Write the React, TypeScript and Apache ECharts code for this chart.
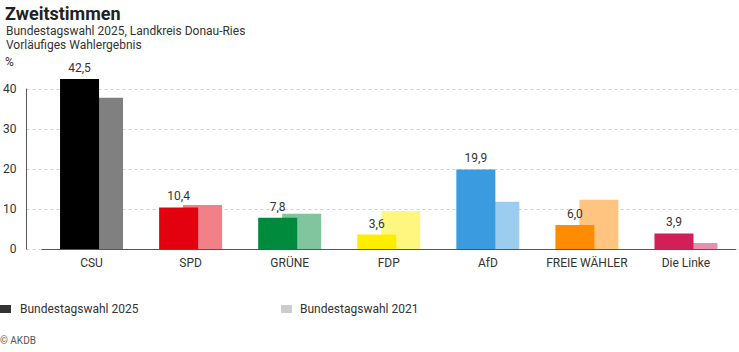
import React, { useEffect, useRef } from "react";
import * as echarts from "echarts";

const categories = ["CSU", "SPD", "GRÜNE", "FDP", "AfD", "FREIE WÄHLER", "Die Linke"];
const values2025 = [42.5, 10.4, 7.8, 3.6, 19.9, 6.0, 3.9];
const values2021 = [37.8, 11.0, 8.8, 9.5, 11.8, 12.3, 1.5];
const colors2025 = ["#000000", "#e3000f", "#008a3b", "#ffed00", "#3a9be0", "#ff8c00", "#d11f5a"];
const colors2021 = ["#808080", "#f18087", "#80c59d", "#fff680", "#9ccdef", "#ffc580", "#e88fac"];
const yTicks = [0, 10, 20, 30, 40];
const legendLabels = ["Bundestagswahl 2025", "Bundestagswahl 2021"];

const FONT = "Roboto, sans-serif";

export default function App() {
  const ref = useRef<HTMLDivElement>(null);
  useEffect(() => {
    const chart = echarts.init(ref.current!, null, { renderer: "svg" });
    const top = 89;
    const bottom = 103;
    chart.setOption({
      animation: false,
      textStyle: { fontFamily: FONT },
      title: [
        {
          text: "Zweitstimmen",
          left: 0,
          top: -1,
          textStyle: { fontSize: 18, fontWeight: "bold", color: "#222", fontFamily: FONT },
        },
        {
          text: "Bundestagswahl 2025, Landkreis Donau-Ries\nVorläufiges Wahlergebnis",
          left: 1,
          top: 19,
          textStyle: { fontSize: 12, fontWeight: "normal", color: "#333", lineHeight: 14, fontFamily: FONT },
        },
      ],
      grid: [
        { left: 24, right: 0, top, bottom },
        { left: 42, right: 3.5, top, bottom },
      ],
      xAxis: [
        {
          type: "value",
          gridIndex: 0,
          min: 0,
          max: 1,
          axisLine: { show: false },
          axisTick: { show: false },
          axisLabel: { show: false },
          splitLine: { show: false },
        },
        {
          type: "category",
          gridIndex: 1,
          data: categories,
          axisLine: { show: true, onZero: false, lineStyle: { color: "#555", width: 1 } },
          axisTick: { show: false },
          axisLabel: { color: "#333", fontSize: 12, margin: 8, interval: 0, fontFamily: FONT },
        },
      ],
      yAxis: [
        {
          type: "value",
          gridIndex: 0,
          min: yTicks[0],
          max: yTicks[yTicks.length - 1],
          interval: 10,
          axisLine: { show: true, onZero: false, lineStyle: { color: "#555" } },
          axisTick: { show: false },
          axisLabel: { show: false },
          splitLine: { show: true, lineStyle: { color: "#d0d0d0", type: [3, 3], width: 1 } },
        },
        {
          type: "value",
          gridIndex: 1,
          min: yTicks[0],
          max: yTicks[yTicks.length - 1],
          interval: 10,
          axisLine: { show: false },
          axisTick: { show: false },
          axisLabel: { show: false },
          splitLine: { show: false },
        },
        {
          type: "value",
          gridIndex: 0,
          position: "left",
          min: yTicks[0],
          max: yTicks[yTicks.length - 1],
          interval: 10,
          axisLine: { show: false },
          axisTick: { show: false },
          axisLabel: { color: "#333", fontSize: 12, margin: 10, fontFamily: FONT },
          splitLine: { show: false },
        },
      ],
      series: [
        {
          type: "bar",
          name: legendLabels[0],
          xAxisIndex: 1,
          yAxisIndex: 1,
          z: 4,
          clip: false,
          barWidth: 39,
          barGap: "-38.5%",
          data: values2025.map((v, i) => ({ value: v, itemStyle: { color: colors2025[i] } })),
          label: {
            show: true,
            position: "top",
            distance: 5,
            color: "#333",
            fontSize: 12,
            fontFamily: FONT,
            formatter: (p: any) => p.value.toFixed(1).replace(".", ","),
          },
        },
        {
          type: "bar",
          name: legendLabels[1],
          xAxisIndex: 1,
          yAxisIndex: 1,
          z: 3,
          clip: false,
          barWidth: 39,
          data: values2021.map((v, i) => ({ value: v, itemStyle: { color: colors2021[i] } })),
        },
      ],
      graphic: [
        { type: "text", left: 5, top: 56, style: { text: "%", fontSize: 12, fill: "#333", fontFamily: FONT } },
        { type: "rect", left: 0, top: 305, shape: { width: 11, height: 8 }, style: { fill: "#333" } },
        { type: "text", left: 20, top: 303, style: { text: legendLabels[0], fontSize: 12, fill: "#333", fontFamily: FONT } },
        { type: "rect", left: 281, top: 305, shape: { width: 11, height: 8 }, style: { fill: "#cccccc" } },
        { type: "text", left: 300, top: 303, style: { text: legendLabels[1], fontSize: 12, fill: "#333", fontFamily: FONT } },
        { type: "text", left: 0, top: 335, style: { text: "© AKDB", fontSize: 10, fill: "#555", fontFamily: FONT } },
      ],
    });
    return () => chart.dispose();
  }, []);
  return <div ref={ref} style={{ width: 739, height: 352, position: "absolute", left: 0, top: 0 }} />;
}
